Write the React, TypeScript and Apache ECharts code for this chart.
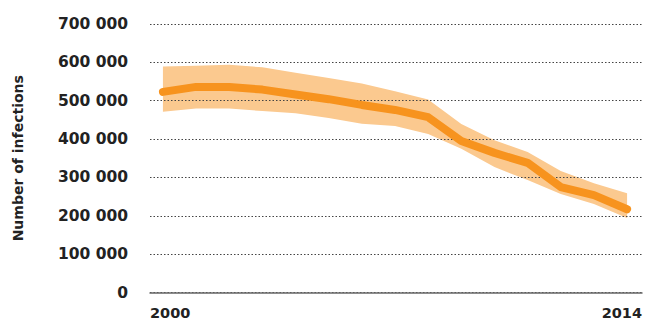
import React, { useEffect, useRef } from "react";
import * as echarts from "echarts";

const years = [2000, 2001, 2002, 2003, 2004, 2005, 2006, 2007, 2008, 2009, 2010, 2011, 2012, 2013, 2014];
const estimate = [523000, 536000, 536000, 529000, 516000, 504000, 489000, 476000, 457000, 395000, 364000, 338000, 275000, 254000, 217000];
const upperBound = [589000, 591000, 594000, 587000, 573000, 559000, 545000, 525000, 503000, 439000, 397000, 366000, 317000, 285000, 259000];
const lowerBound = [471000, 480000, 480000, 473000, 467000, 455000, 440000, 434000, 413000, 375000, 327000, 293000, 257000, 231000, 194000];
const yTicks = [0, 100000, 200000, 300000, 400000, 500000, 600000, 700000];
const axisTitle = "Number of infections";

const X_MIN = 1999.61;
const X_MAX = 2014.45;

function fmt(v: number): string {
  return String(Math.round(v)).replace(/\B(?=(\d{3})+(?!\d))/g, " ");
}

export default function App() {
  const ref = useRef<HTMLDivElement>(null);
  useEffect(() => {
    if (!ref.current) return;
    const chart = echarts.init(ref.current, null, { renderer: "svg" });
    const font = "DejaVu Sans";
    chart.setOption({
      animation: false,
      grid: { left: 150, right: 2, top: 24, bottom: 28.5 },
      xAxis: {
        type: "value",
        min: X_MIN,
        max: X_MAX,
        z: 4,
        splitLine: { show: false },
        axisTick: { show: false },
        axisLine: { show: true, lineStyle: { color: "#666", width: 1.5 } },
        axisLabel: {
          customValues: [X_MIN, X_MAX],
          formatter: (v: number) => String(Math.round(v)),
          alignMinLabel: "left",
          alignMaxLabel: "right",
          margin: 13,
          fontFamily: font,
          fontWeight: "bold",
          fontSize: 14.5,
          color: "#222",
        },
      },
      yAxis: {
        type: "value",
        min: yTicks[0],
        max: yTicks[yTicks.length - 1],
        interval: yTicks[1] - yTicks[0],
        z: 2,
        name: axisTitle,
        nameLocation: "middle",
        nameGap: 125,
        nameTextStyle: { fontFamily: font, fontWeight: "bold", fontSize: 14, color: "#222" },
        axisLine: { show: false },
        axisTick: { show: false },
        axisLabel: {
          formatter: (v: number) => fmt(v),
          margin: 22,
          fontFamily: font,
          fontWeight: "bold",
          fontSize: 15.5,
          color: "#222",
        },
        splitLine: { show: true, lineStyle: { type: [1.5, 2], color: "#444", width: 1.2 } },
      },
      series: [
        {
          type: "custom",
          silent: true,
          z: 1,
          data: years.map((y, i) => [y, lowerBound[i], upperBound[i]]),
          renderItem: (params: any, api: any) => {
            if (params.dataIndex !== 0) return null;
            const pts: number[][] = [];
            for (let i = 0; i < years.length; i++) pts.push(api.coord([years[i], upperBound[i]]));
            for (let i = years.length - 1; i >= 0; i--) pts.push(api.coord([years[i], lowerBound[i]]));
            return {
              type: "polygon",
              shape: { points: pts },
              style: { fill: "#FBC98F", stroke: "none" },
            };
          },
        },
        {
          type: "line",
          symbol: "none",
          lineStyle: { width: 8, color: "#F7931E", cap: "round", join: "round" },
          data: years.map((y, i) => [y, estimate[i]]),
          z: 3,
        },
      ],
    });
    return () => chart.dispose();
  }, []);
  return (
    <div
      ref={ref}
      style={{ position: "fixed", left: 0, top: 0, width: 645, height: 321, background: "#fff" }}
    />
  );
}
